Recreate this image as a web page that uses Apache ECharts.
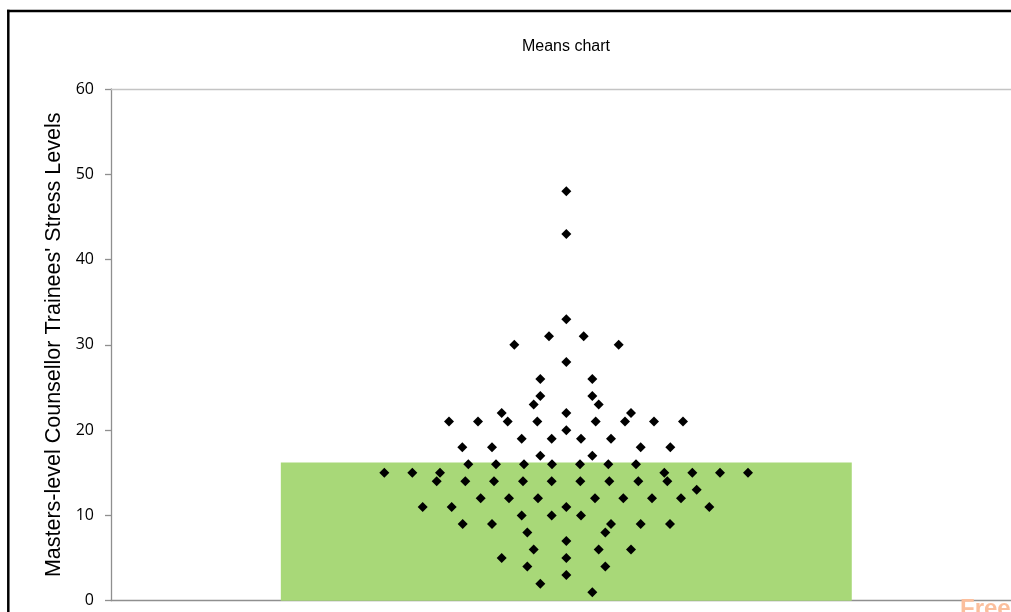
<!DOCTYPE html>
<html>
<head>
<meta charset="utf-8">
<script src="https://cdn.jsdelivr.net/npm/echarts@6/dist/echarts.min.js"></script>
<style>
html,body{margin:0;padding:0;background:#fff;overflow:hidden;}
#chart{width:1040px;height:612px;}
</style>
</head>
<body>
<div id="chart"></div>
<script>
// ---- data ----
const titleText = "Means chart";
const yAxisTitle = "Masters-level Counsellor Trainees' Stress Levels";
const categories = ["Mean"];
const meanValues = [16.2];
const yTicks = [0, 10, 20, 30, 40, 50, 60];
// individual stress scores (y) and horizontal jitter offsets (x, arbitrary units from centre)
const scores = [
  48, 43, 33,
  31, 31,
  30, 30,
  28,
  26, 26,
  24, 24,
  23, 23,
  22, 22, 22,
  21, 21, 21, 21, 21, 21, 21, 21,
  20,
  19, 19, 19, 19,
  18, 18, 18, 18,
  17, 17,
  16, 16, 16, 16, 16, 16, 16,
  15, 15, 15, 15, 15, 15, 15,
  14, 14, 14, 14, 14, 14, 14, 14, 14,
  13,
  12, 12, 12, 12, 12, 12, 12,
  11, 11, 11, 11,
  10, 10, 10,
  9, 9, 9, 9, 9,
  8, 8,
  7,
  6, 6, 6,
  5, 5,
  4, 4,
  3,
  2,
  1
];
const jitter = [
  0, 0, 0,
  -17.3, 17.4,
  -52, 52.4,
  0,
  -26, 26,
  -26, 26,
  -32.6, 32.4,
  -64.6, 0, 64.7,
  -117.3, -88.3, -58.6, -29, 29.4, 58.7, 87.7, 116.7,
  0,
  -44.6, -14.6, 14.7, 44.7,
  -104, -74.3, 74.4, 104,
  -26, 26,
  -98, -70.3, -42.3, -14.3, 13.7, 42, 69.7,
  -182, -154, -126.3, 98, 126, 153.7, 181.7,
  -129.6, -101, -72.3, -43.3, -14.6, 14, 43, 72, 101,
  130.4,
  -85.6, -57.3, -28.3, 28.7, 57, 85.7, 114.7,
  -143.6, -114.6, 0, 143,
  -44.6, -14.6, 14.7,
  -103.6, -74.3, 44.7, 74.4, 103.7,
  -39, 39,
  0,
  -32.6, 32.4, 64.7,
  -64.6, 0,
  -39, 39,
  0,
  -26,
  26
];
const jitterRange = 455.3;

const points = scores.map((s, i) => [jitter[i], s]);

const chart = echarts.init(document.getElementById('chart'), null, {renderer: 'canvas'});
const option = {
  backgroundColor: '#ffffff',
  animation: false,
  grid: {left: 111, top: 89, width: 910.6, height: 511.7, containLabel: false},
  graphic: [
    {type: 'line', z: 100, silent: true,
     shape: {x1: 8.3, y1: 9.8, x2: 8.3, y2: 700},
     style: {stroke: '#000', lineWidth: 2.5}},
    {type: 'line', z: 100, silent: true,
     shape: {x1: 7, y1: 11, x2: 1040, y2: 11},
     style: {stroke: '#000', lineWidth: 2.5}},
    {type: 'text', x: 566, y: 47, z: 100,
     style: {text: titleText, fill: '#000', font: '16px "Liberation Sans", Arial, sans-serif',
             textAlign: 'center', textVerticalAlign: 'middle'}},
    {type: 'text', x: 960, y: 597, z: 100,
     style: {text: 'Free', fill: '#fbbf9d', font: 'bold 24px "Liberation Sans", Arial, sans-serif',
             textAlign: 'left', textVerticalAlign: 'top'}}
  ],
  xAxis: [
    {type: 'category', data: categories, position: 'bottom',
     axisLine: {show: true, lineStyle: {color: '#8f8f8f', width: 1.3}},
     axisTick: {show: false}, axisLabel: {show: false}, splitLine: {show: false}},
    {type: 'value', position: 'top', min: -jitterRange, max: jitterRange,
     axisLine: {show: true, onZero: false, lineStyle: {color: '#c4c4c4', width: 1.3}},
     axisTick: {show: false}, axisLabel: {show: false}, splitLine: {show: false}}
  ],
  yAxis: {
    type: 'value', min: yTicks[0], max: yTicks[yTicks.length - 1], interval: 10,
    name: yAxisTitle, nameLocation: 'middle', nameRotate: 90, nameGap: 46,
    nameTextStyle: {fontFamily: '"Liberation Sans", Arial, sans-serif', fontSize: 21.5, color: '#000'},
    axisLine: {show: true, onZero: false, lineStyle: {color: '#8f8f8f', width: 1.3}},
    axisTick: {show: true, length: 6, lineStyle: {color: '#8f8f8f', width: 1.3}},
    axisLabel: {margin: 17, color: '#000', fontFamily: '"Open Sans", sans-serif', fontSize: 16},
    splitLine: {show: false}
  },
  series: [
    {type: 'bar', xAxisIndex: 0, data: meanValues, barWidth: '62.7%',
     itemStyle: {color: '#a8d878'}, z: 2, silent: true},
    {type: 'scatter', xAxisIndex: 1, data: points, symbol: 'diamond', symbolSize: 10,
     itemStyle: {color: '#000', opacity: 1}, z: 5, silent: true}
  ]
};
chart.setOption(option);
</script>
</body>
</html>
